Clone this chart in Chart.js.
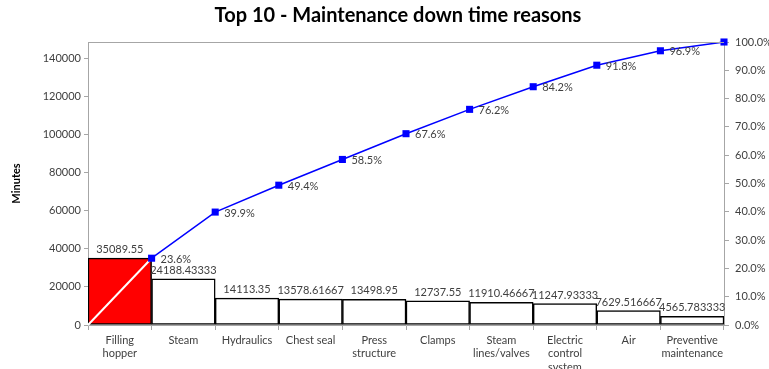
<!DOCTYPE html>
<html>
<head>
<meta charset="utf-8">
<script src="https://cdn.jsdelivr.net/npm/chart.js@4/dist/chart.umd.min.js"></script>
<style>
  html, body { margin: 0; padding: 0; background: #ffffff; }
  #wrap { width: 769px; height: 369px; }
</style>
</head>
<body>
<div id="wrap"><canvas id="c" width="769" height="369"></canvas></div>
<script>
// Downtime reasons, minutes lost per reason
const categories = [
  ['Filling', 'hopper'], 'Steam', 'Hydraulics', 'Chest seal', ['Press', 'structure'],
  'Clamps', ['Steam', 'lines/valves'], ['Electric', 'control', 'system'], 'Air',
  ['Preventive', 'maintenance']
];
const minutes = [35089.55, 24188.43333, 14113.35, 13578.61667, 13498.95,
  12737.55, 11910.46667, 11247.93333, 7629.516667, 4565.783333];
const minuteLabels = ['35089.55', '24188.43333', '14113.35', '13578.61667', '13498.95',
  '12737.55', '11910.46667', '11247.93333', '7629.516667', '4565.783333'];
// Cumulative share at each category boundary (starts at the origin)
const cumulativePct = [0, 23.6, 39.9, 49.4, 58.5, 67.6, 76.2, 84.2, 91.8, 96.9, 100.0];
const cumulativeLabels = ['', '23.6%', '39.9%', '49.4%', '58.5%', '67.6%', '76.2%', '84.2%', '91.8%', '96.9%', ''];
const minuteTicks = [0, 20000, 40000, 60000, 80000, 100000, 120000, 140000];
const pctTicks = [0, 10, 20, 30, 40, 50, 60, 70, 80, 90, 100];

const totalMinutes = minutes.reduce((a, b) => a + b, 0);

const FONT = 'Lato, "Open Sans", sans-serif';
const TEXT = '#404040';
const AXIS = '#a6a6a6';

const barColors = minutes.map((_, i) => i === 0 ? '#ff0000' : '#ffffff');

const frameAndLabels = {
  id: 'frameAndLabels',
  afterDraw(chart) {
    const ctx = chart.ctx;
    const a = chart.chartArea;
    ctx.save();
    // top edge of the plot box
    ctx.strokeStyle = AXIS;
    ctx.lineWidth = 1;
    ctx.beginPath();
    ctx.moveTo(a.left, a.top + 0.5);
    ctx.lineTo(a.right, a.top + 0.5);
    ctx.stroke();

    // title
    ctx.fillStyle = '#000000';
    ctx.font = 'bold 20px ' + FONT;
    ctx.textAlign = 'center';
    ctx.textBaseline = 'middle';
    ctx.fillText('Top 10 - Maintenance down time reasons', 398, 16);

    // value labels above bars
    ctx.font = '11px ' + FONT;
    ctx.fillStyle = TEXT;
    ctx.textBaseline = 'bottom';
    const barMeta = chart.getDatasetMeta(0);
    barMeta.data.forEach((bar, i) => {
      ctx.fillText(minuteLabels[i], bar.x, bar.y - 3);
    });

    // cumulative labels right of points
    ctx.textAlign = 'left';
    ctx.textBaseline = 'middle';
    const lineMeta = chart.getDatasetMeta(1);
    lineMeta.data.forEach((pt, i) => {
      if (cumulativeLabels[i]) ctx.fillText(cumulativeLabels[i], pt.x + 9, pt.y + 1);
    });
    ctx.restore();
  }
};

new Chart(document.getElementById('c'), {
  data: {
    labels: categories,
    datasets: [
      {
        type: 'bar',
        data: minutes,
        backgroundColor: barColors,
        borderColor: '#000000',
        borderWidth: 1.5,
        borderSkipped: false,
        grouped: false,
        categoryPercentage: 1.0,
        barPercentage: 1.0,
        xAxisID: 'x',
        yAxisID: 'y',
        order: 1
      },
      {
        type: 'line',
        data: cumulativePct.map((v, i) => ({ x: i, y: v })),
        borderColor: '#0000ff',
        borderWidth: 1.5,
        pointStyle: 'rect',
        pointRadius: cumulativePct.map((_, i) => i === 0 ? 0 : 5),
        pointBackgroundColor: '#0000ff',
        pointBorderColor: '#0000ff',
        pointBorderWidth: 0,
        segment: {
          borderColor: c => c.p0DataIndex === 0 ? '#ffffff' : '#0000ff',
          borderWidth: c => c.p0DataIndex === 0 ? 2 : 1.5
        },
        tension: 0,
        clip: false,
        xAxisID: 'x2',
        yAxisID: 'y2',
        order: 0
      }
    ]
  },
  options: {
    responsive: false,
    animation: false,
    layout: { padding: { top: 42, left: 0, right: 0, bottom: 0 } },
    plugins: {
      legend: { display: false },
      title: { display: false },
      tooltip: { enabled: false }
    },
    scales: {
      x: {
        type: 'category',
        offset: true,
        grid: { display: true, drawOnChartArea: false, offset: true, tickLength: 5, color: AXIS },
        border: { color: AXIS },
        ticks: { color: TEXT, font: { family: FONT, size: 11 }, padding: 4, maxRotation: 0, autoSkip: false },
        afterFit(s) { s.height = 44; }
      },
      x2: {
        type: 'linear',
        min: 0,
        max: categories.length,
        display: false
      },
      y: {
        type: 'linear',
        position: 'left',
        min: 0,
        max: totalMinutes,
        afterBuildTicks(s) { s.ticks = minuteTicks.map(v => ({ value: v })); },
        grid: { display: true, drawOnChartArea: false, tickLength: 4, color: AXIS },
        border: { color: AXIS },
        ticks: { color: TEXT, font: { family: FONT, size: 11 }, padding: 3, callback: v => String(v) },
        title: { display: true, text: 'Minutes', color: '#000000', font: { family: FONT, size: 11, weight: 'bold' }, padding: { top: 10, bottom: 0 } },
        afterFit(s) { s.width = 88; }
      },
      y2: {
        type: 'linear',
        position: 'right',
        min: 0,
        max: 100,
        afterBuildTicks(s) { s.ticks = pctTicks.map(v => ({ value: v })); },
        grid: { display: true, drawOnChartArea: false, tickLength: 5, color: AXIS },
        border: { color: AXIS },
        ticks: { color: TEXT, font: { family: FONT, size: 11 }, padding: 6, callback: v => v.toFixed(1) + '%' },
        afterFit(s) { s.width = 45; }
      }
    }
  },
  plugins: [frameAndLabels]
});
</script>
</body>
</html>
